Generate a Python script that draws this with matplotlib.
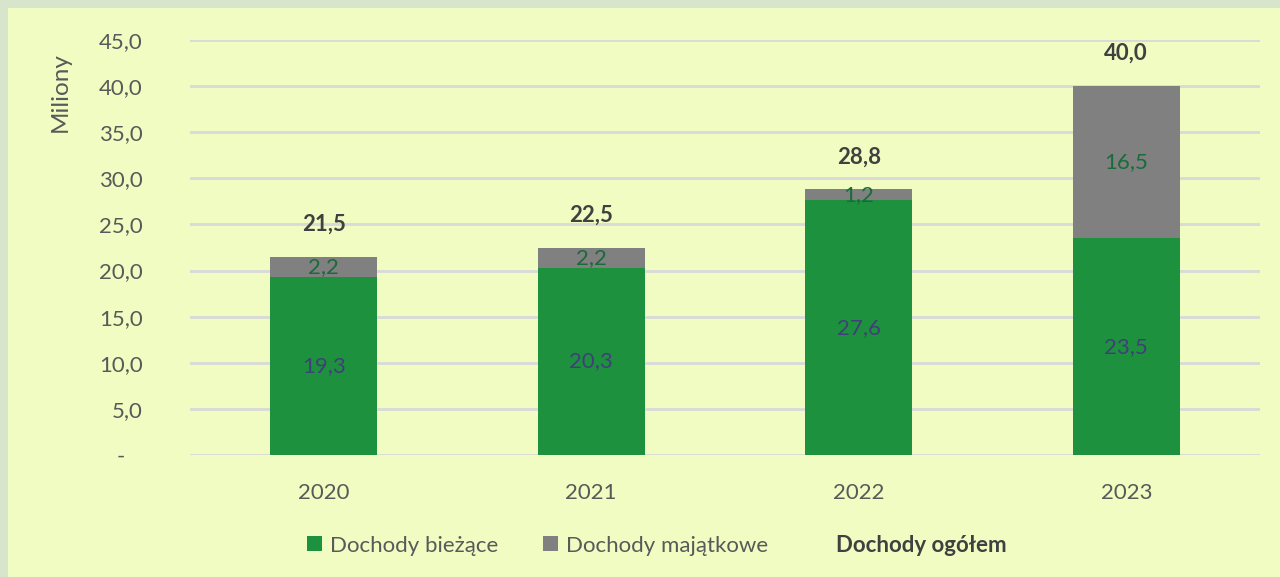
import matplotlib
matplotlib.use("Agg")
import matplotlib.pyplot as plt
from matplotlib.patches import Patch, Rectangle
from matplotlib.ticker import FuncFormatter

years = ["2020", "2021", "2022", "2023"]
biezace = [19.3, 20.3, 27.6, 23.5]
majatkowe = [2.2, 2.2, 1.2, 16.5]
ogolem = [21.5, 22.5, 28.8, 40.0]
yticks = [0, 5, 10, 15, 20, 25, 30, 35, 40, 45]

plt.rcParams['font.family'] = ['Lato', 'DejaVu Sans']

BG = "#F0FCC2"
BORDER = "#D8E5CD"
GREEN = "#1E913F"
GRAY = "#808080"
TXT = "#595959"
FS = 16

fig = plt.figure(figsize=(12.8, 5.77), dpi=100)
fig.patch.set_facecolor(BORDER)
fig.patches.append(Rectangle((8/1280, 0), 1, 1 - 8/577, transform=fig.transFigure,
                             facecolor=BG, edgecolor="none", zorder=-5))

ax = fig.add_axes([190/1280, 122/577, 1070/1280, 415/577])
ax.set_zorder(2)
ax.patch.set_alpha(0)

x = list(range(len(years)))
w = 0.4
ax.bar(x, biezace, w, color=GREEN, zorder=3, label="Dochody bieżące")
ax.bar(x, majatkowe, w, bottom=biezace, color=GRAY, zorder=3, label="Dochody majątkowe")

fmt = lambda v: f"{v:.1f}".replace(".", ",")
for i in x:
    ax.text(i, biezace[i] / 2, fmt(biezace[i]), ha="center", va="center",
            color="#404078", fontsize=FS, zorder=4)
    ax.text(i, biezace[i] + majatkowe[i] / 2, fmt(majatkowe[i]), ha="center", va="center",
            color="#1B6B3A", fontsize=FS, zorder=4)
    ax.annotate(fmt(ogolem[i]), (i, ogolem[i]), xytext=(0, 23.5), textcoords="offset points",
                ha="center", va="center", fontsize=FS, fontweight="bold", color="#404040")

ax.set_xlim(-0.5, 3.5)
ax.set_ylim(0, 45)
ax.set_yticks(yticks)
ax.yaxis.set_major_formatter(FuncFormatter(lambda v, p: "-   " if v == 0 else fmt(v)))
ax.set_xticks(x)
ax.set_xticklabels(years)
ax.tick_params(axis="y", length=0, pad=34, labelsize=FS, labelcolor=TXT)
ax.tick_params(axis="x", length=0, pad=20, labelsize=FS, labelcolor=TXT)
ax.grid(axis="y", color="#D9D9D9", linewidth=2, zorder=1)
for s in ax.spines.values():
    s.set_visible(False)

ax.set_ylabel("Miliony", fontsize=17.5, color=TXT)
ax.yaxis.set_label_coords(-0.111, 0.875)

handles = [Patch(facecolor=GREEN), Patch(facecolor=GRAY), Patch(facecolor="none", edgecolor="none")]
labels = ["Dochody bieżące", "Dochody majątkowe", "Dochody ogółem"]
leg = fig.legend(handles, labels, loc="center", bbox_to_anchor=(657/1280, 1 - 545/577), ncol=3,
                 frameon=False, fontsize=FS, handlelength=0.65, handleheight=0.65,
                 handletextpad=0.4, columnspacing=2.0)
for t in leg.get_texts():
    t.set_color(TXT)
leg.get_texts()[2].set_fontweight("bold")
leg.get_texts()[2].set_color("#404040")

fig.savefig("out.png", dpi=100, facecolor=fig.get_facecolor())
